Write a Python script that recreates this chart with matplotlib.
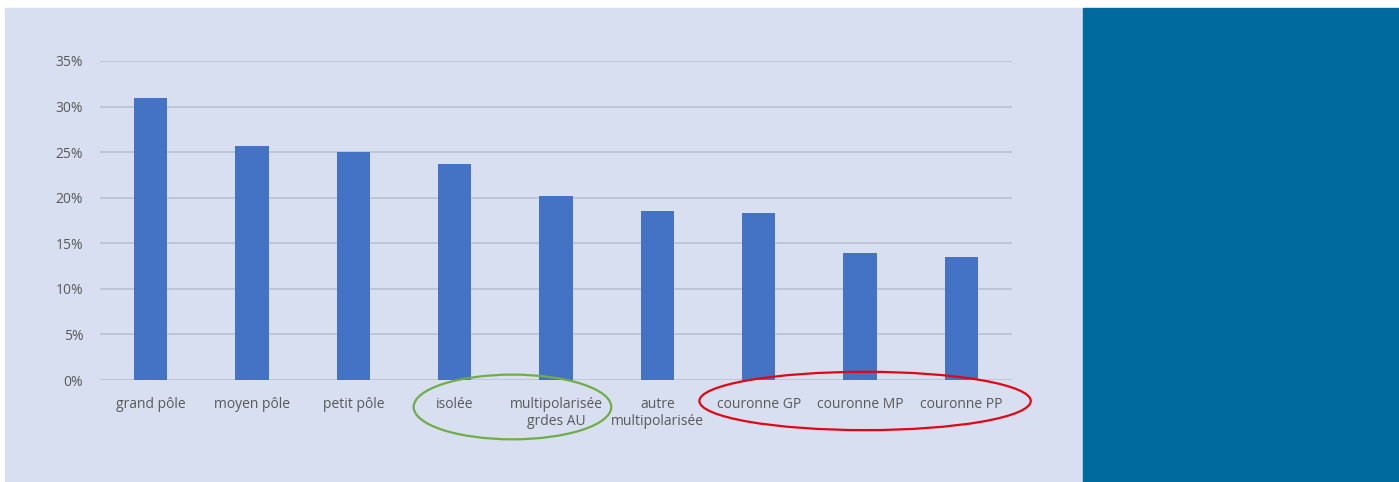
import matplotlib.pyplot as plt
from matplotlib.patches import Rectangle, Ellipse
from matplotlib.ticker import PercentFormatter

categories = ["grand pôle", "moyen pôle", "petit pôle", "isolée",
              "multipolarisée\ngrdes AU", "autre\nmultipolarisée",
              "couronne GP", "couronne MP", "couronne PP"]
valeurs = [30.9, 25.7, 25.0, 23.7, 20.2, 18.5, 18.3, 13.9, 13.5]

fond = "#d8dff0"
bleu = "#4472c4"
texte = "#595959"

plt.rcParams['font.family'] = ['Open Sans', 'DejaVu Sans']

fig = plt.figure(figsize=(13.99, 4.82), dpi=100, facecolor="white")
W, H = 1399, 482
fig.patches.append(Rectangle((5 / W, 0), (1083 - 5) / W, 474 / H,
                             transform=fig.transFigure, color=fond, zorder=-2))
fig.patches.append(Rectangle((1083 / W, 0), (W - 1083) / W, 474 / H,
                             transform=fig.transFigure, color="#006a9f", zorder=-2))

ax = fig.add_axes([100 / W, 102 / H, 912 / W, 319 / H])
ax.set_facecolor("none")
x = range(len(categories))
ax.bar(x, valeurs, width=0.33, color=bleu, zorder=3)

ax.set_xlim(-0.5, len(categories) - 0.5)
ax.set_ylim(0, 35)
ax.set_yticks(range(0, 36, 5))
ax.yaxis.set_major_formatter(PercentFormatter(decimals=0))
ax.set_xticks(list(x))
ax.set_xticklabels(categories, linespacing=1.2)
ax.tick_params(axis="both", length=0, labelsize=10, colors=texte)
ax.tick_params(axis="x", pad=12)
ax.tick_params(axis="y", pad=12)
ax.grid(axis="y", color="#bcc3d3", linewidth=1.3, zorder=0)
for s in ax.spines.values():
    s.set_visible(False)

# groupes entourés
ax.add_patch(Ellipse((3.57, -2.96), 1.95, 7.1, fill=False, edgecolor="#6fae45",
                     linewidth=1.6, clip_on=False, zorder=4))
ax.add_patch(Ellipse((7.05, -2.3), 3.27, 6.4, fill=False, edgecolor="#e30613",
                     linewidth=1.6, clip_on=False, zorder=4))

fig.savefig("out.png", dpi=100, facecolor=fig.get_facecolor())
